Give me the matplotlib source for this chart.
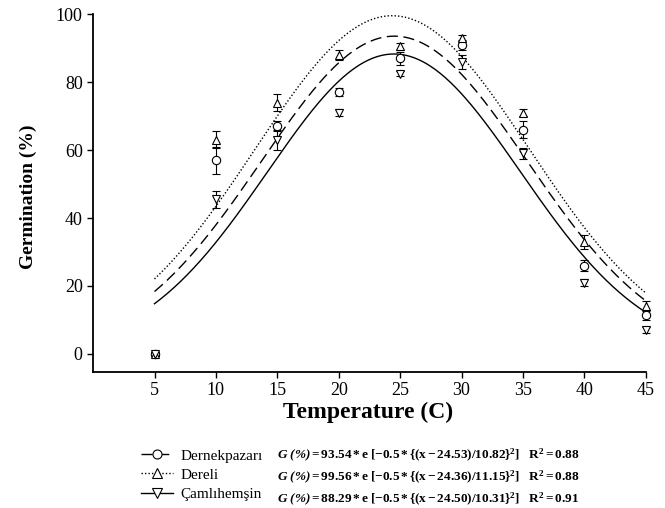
import numpy as np
import matplotlib
matplotlib.use("Agg")
import matplotlib.pyplot as plt
from matplotlib.lines import Line2D

plt.rcParams['font.family'] = ['Liberation Serif', 'DejaVu Serif']
plt.rcParams['mathtext.fontset'] = 'custom'
plt.rcParams['mathtext.rm'] = 'Liberation Serif'
plt.rcParams['mathtext.bf'] = 'Liberation Serif:bold'
plt.rcParams['mathtext.it'] = 'Liberation Serif:italic'
plt.rcParams['mathtext.bfit'] = 'Liberation Serif:italic:bold'

# Data
temps = [5, 10, 15, 20, 25, 30, 35, 40, 45]
names = ["Dernekpazarı", "Dereli", "Çamlıhemşin"]
dernek_mean = [0, 57, 67, 77, 87, 91, 66, 26, 11.5]
dernek_err = [0.5, 4, 1.5, 1.2, 2.0, 1.5, 2.5, 1.5, 1.5]
dereli_mean = [0, 63, 74, 88, 90.5, 93, 71, 33, 14]
dereli_err = [0.5, 2.5, 2.5, 1.5, 1.0, 1.0, 1.0, 2.0, 1.5]
caml_mean = [0, 45.5, 63, 71, 82.5, 86, 59, 21, 7]
caml_err = [0.5, 2.5, 3.0, 1.0, 0.8, 2.0, 1.5, 1.0, 1.0]

# Gaussian fit parameters (from equations on chart)
fit_a = [93.54, 99.56, 88.29]
fit_mu = [24.53, 24.36, 24.50]
fit_sigma = [10.82, 11.15, 10.31]
fit_r2 = ["0.88", "0.88", "0.91"]

means = [dernek_mean, dereli_mean, caml_mean]
errs = [dernek_err, dereli_err, caml_err]
markers = ['o', '^', 'v']
linestyles = [(0, (8, 4)), (0, (1, 1.5)), '-']

fig = plt.figure(figsize=(6.65, 5.08), dpi=100)
ax = fig.add_axes([0.14, 0.268, 0.831, 0.704])

xs = np.linspace(5, 45, 300)
for i in range(3):
    ys = fit_a[i] * np.exp(-0.5 * ((xs - fit_mu[i]) / fit_sigma[i]) ** 2)
    ax.plot(xs, ys, color='black', lw=1.0, linestyle=linestyles[i])
for i in range(3):
    cont = ax.errorbar(temps, means[i], yerr=errs[i], fmt=markers[i], mfc='white',
                       mec='black', ecolor='black', ms=6, mew=0.8, elinewidth=0.8,
                       capsize=3, capthick=0.8, zorder=3)
    for art in cont.get_children():
        art.set_clip_on(False)

ax.set_xlim(0, 45)
ax.set_ylim(-5.3, 100)
ax.set_xticks([5, 10, 15, 20, 25, 30, 35, 40, 45])
ax.set_yticks([0, 20, 40, 60, 80, 100])
ax.spines['top'].set_visible(False)
ax.spines['right'].set_visible(False)
ax.spines['left'].set_linewidth(1.3)
ax.spines['bottom'].set_linewidth(1.3)
ax.tick_params(axis='both', labelsize=13, width=1.0, length=4, direction='out')
ax.set_xlabel("Temperature (C)", fontsize=17, fontweight='bold')
ax.xaxis.set_label_coords(0.497, -0.083)
ax.set_ylabel("Germination (%)", fontsize=14, fontweight='bold')
ax.yaxis.set_label_coords(-0.102, 0.49)

handles = [Line2D([0], [0], color='black', lw=1.0, linestyle=linestyles[i],
                  marker=markers[i], mfc='white', mec='black', ms=6.5, mew=0.8)
           for i in range(3)]
fig.legend(handles, names, loc='upper left', bbox_to_anchor=(0.212, 0.116),
           frameon=False, fontsize=11, handlelength=2.1, labelspacing=0.35,
           handletextpad=0.5, borderaxespad=0, borderpad=0)

eq_y = [0.104, 0.061, 0.017]
for i in range(3):
    s = (r"$\mathbfit{G\ (\%)}\mathbf{=" + f"{fit_a[i]:.2f}" + r"*e\ [-0.5*\{(x-" +
         f"{fit_mu[i]:.2f}" + r")/" + f"{fit_sigma[i]:.2f}" + r"\}^2]\quad R^2=" + fit_r2[i] + r"}$")
    fig.text(0.4165, eq_y[i], s, fontsize=9.5, va='center', ha='left')

fig.savefig("out.png", dpi=100)
